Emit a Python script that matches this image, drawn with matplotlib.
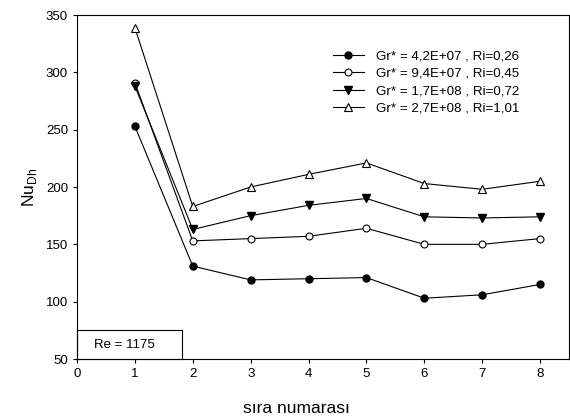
import matplotlib
matplotlib.use('Agg')
import matplotlib.pyplot as plt
import matplotlib.patches as patches

plt.rcParams['font.family'] = ['Liberation Sans', 'DejaVu Sans']
plt.rcParams['mathtext.fontset'] = 'custom'
plt.rcParams['mathtext.rm'] = 'Liberation Sans'

# Data
sira = [1, 2, 3, 4, 5, 6, 7, 8]
nu_ri026 = [253, 131, 119, 120, 121, 103, 106, 115]
nu_ri045 = [291, 153, 155, 157, 164, 150, 150, 155]
nu_ri072 = [288, 163, 175, 184, 190, 174, 173, 174]
nu_ri101 = [339, 183, 200, 211, 221, 203, 198, 205]

labels = ['Gr* = 4,2E+07 , Ri=0,26',
          'Gr* = 9,4E+07 , Ri=0,45',
          'Gr* = 1,7E+08 , Ri=0,72',
          'Gr* = 2,7E+08 , Ri=1,01']

fig = plt.figure(figsize=(5.7, 4.19), dpi=100)
ax = fig.add_axes([77/570, 60/419, 492/570, 344/419])

lw = 0.8
ms = 5
ax.plot(sira, nu_ri026, color='k', lw=lw, marker='o', ms=ms, mfc='k', mec='k', label=labels[0])
ax.plot(sira, nu_ri045, color='k', lw=lw, marker='o', ms=ms, mfc='white', mec='k', mew=0.8, label=labels[1])
ax.plot(sira, nu_ri072, color='k', lw=lw, marker='v', ms=ms + 0.8, mfc='k', mec='k', label=labels[2])
ax.plot(sira, nu_ri101, color='k', lw=lw, marker='^', ms=ms + 0.8, mfc='white', mec='k', mew=0.8, label=labels[3])

ax.set_xlim(0, 8.5)
ax.set_ylim(50, 350)
ax.set_xticks(range(0, 9))
ax.set_yticks(range(50, 351, 50))
ax.tick_params(direction='out', length=3, width=0.8, labelsize=9.5, colors='k')
for s in ax.spines.values():
    s.set_linewidth(0.8)

ax.set_xlabel('sıra numarası', fontsize=12.5)
ax.xaxis.set_label_coords(0.445, -0.122)
ax.set_ylabel(r'Nu$_{\mathrm{Dh}}$', fontsize=12.5, labelpad=5)

leg = ax.legend(loc='upper left', bbox_to_anchor=(0.52, 0.898), frameon=False,
                fontsize=9.6, handlelength=2.3, handletextpad=0.95,
                labelspacing=0.38, borderpad=0, borderaxespad=0)

# Re box in lower left
box = patches.Rectangle((0, 0), 0.213, 0.084, transform=ax.transAxes,
                        fill=False, edgecolor='k', lw=0.8, clip_on=False)
ax.add_patch(box)
ax.text(0.035, 0.042, 'Re = 1175', transform=ax.transAxes, fontsize=9.5,
        va='center', ha='left')

fig.savefig('out.png', dpi=100)
